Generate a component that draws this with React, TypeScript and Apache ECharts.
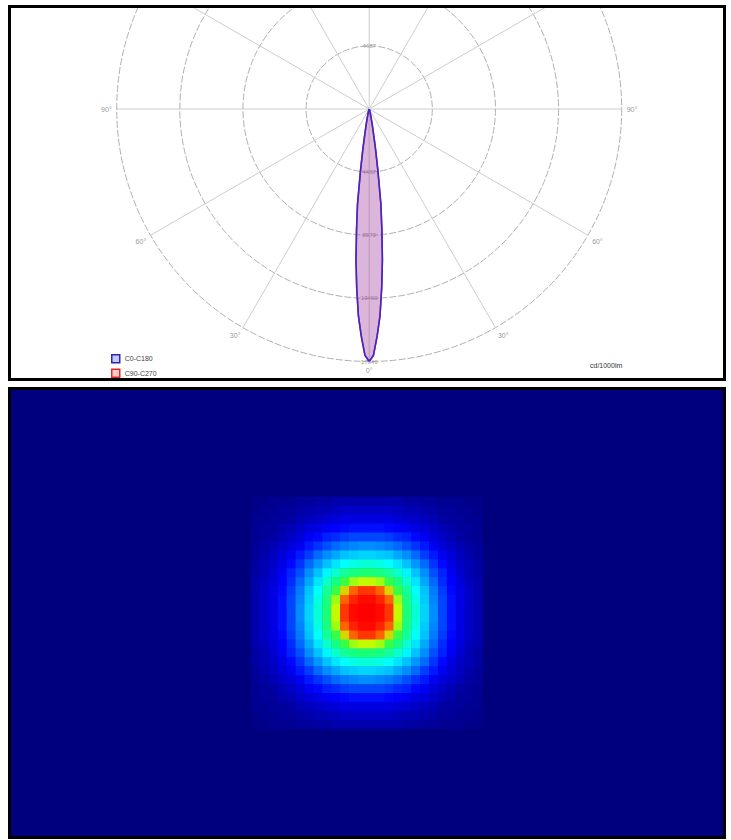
import React, { useEffect, useRef } from "react";
import * as echarts from "echarts";

// ---- Polar (photometric) data ----
const ANGLES = [0, 1, 2, 3, 4, 5, 6, 7, 8, 9, 10, 11, 12, 14, 16, 20, 25, 30, 40, 50, 60, 70, 80, 90];
const C0 = [17946, 17500, 16150, 14700, 12740, 10770, 8610, 6820, 4490, 2870, 1700, 1080, 720, 360, 180, 90, 50, 36, 25, 18, 14, 11, 9, 8];
const C180 = [17946, 17500, 16150, 14700, 12740, 10770, 8610, 6820, 4490, 2870, 1700, 1080, 720, 360, 180, 90, 50, 36, 25, 18, 14, 11, 9, 8];
const C90 = [17946, 17500, 16150, 14700, 12740, 10770, 8610, 6820, 4490, 2870, 1700, 1080, 720, 360, 180, 90, 50, 36, 25, 18, 14, 11, 9, 8];
const C270 = [17946, 17500, 16150, 14700, 12740, 10770, 8610, 6820, 4490, 2870, 1700, 1080, 720, 360, 180, 90, 50, 36, 25, 18, 14, 11, 9, 8];
const RADIUS_MAX = 17946;
const RADIUS_STEP = 4486.5;
const SERIES_NAMES = ["C0-C180", "C90-C270"];
const UNIT_LABEL = "cd/1000lm";

// ---- Heatmap data ----
const HEAT_COLS = 80;
const HEAT_ROWS = 50;
const SPOT_COL0 = 27;
const SPOT_ROW0 = 12;
const SPOT = [
  [1, 1, 2, 2, 2, 3, 3, 4, 4, 5, 5, 5, 5, 5, 5, 5, 5, 4, 4, 3, 3, 2, 2, 2, 1, 1],
  [1, 2, 2, 3, 3, 4, 5, 6, 6, 7, 8, 8, 8, 8, 8, 8, 7, 6, 6, 5, 4, 3, 3, 2, 2, 1],
  [2, 2, 3, 3, 4, 6, 7, 8, 9, 10, 11, 11, 11, 11, 11, 11, 10, 9, 8, 7, 6, 4, 3, 3, 2, 2],
  [2, 3, 3, 5, 6, 8, 10, 11, 13, 14, 15, 16, 16, 16, 16, 15, 14, 13, 11, 10, 8, 6, 5, 3, 3, 2],
  [2, 3, 4, 6, 8, 10, 13, 15, 18, 19, 21, 22, 22, 22, 22, 21, 19, 18, 15, 13, 10, 8, 6, 4, 3, 2],
  [3, 4, 6, 8, 10, 13, 17, 20, 23, 26, 28, 29, 30, 30, 29, 28, 26, 23, 20, 17, 13, 10, 8, 6, 4, 3],
  [3, 5, 7, 10, 13, 17, 21, 26, 30, 33, 36, 37, 38, 38, 37, 36, 33, 30, 26, 21, 17, 13, 10, 7, 5, 3],
  [4, 6, 8, 11, 15, 20, 26, 31, 36, 40, 43, 45, 46, 46, 45, 43, 40, 36, 31, 26, 20, 15, 11, 8, 6, 4],
  [4, 6, 9, 13, 18, 23, 30, 36, 42, 47, 51, 53, 54, 54, 53, 51, 47, 42, 36, 30, 23, 18, 13, 9, 6, 4],
  [5, 7, 10, 14, 19, 26, 33, 40, 47, 53, 59, 68, 72, 72, 68, 59, 53, 47, 40, 33, 26, 19, 14, 10, 7, 5],
  [5, 8, 11, 15, 21, 28, 36, 43, 51, 59, 76, 89, 94, 94, 89, 76, 59, 51, 43, 36, 28, 21, 15, 11, 8, 5],
  [5, 8, 11, 16, 22, 29, 37, 45, 53, 68, 89, 96, 99, 99, 96, 89, 68, 53, 45, 37, 29, 22, 16, 11, 8, 5],
  [5, 8, 11, 16, 22, 30, 38, 46, 54, 72, 94, 99, 100, 100, 99, 94, 72, 54, 46, 38, 30, 22, 16, 11, 8, 5],
  [5, 8, 11, 16, 22, 30, 38, 46, 54, 72, 94, 99, 100, 100, 99, 94, 72, 54, 46, 38, 30, 22, 16, 11, 8, 5],
  [5, 8, 11, 16, 22, 29, 37, 45, 53, 68, 89, 96, 99, 99, 96, 89, 68, 53, 45, 37, 29, 22, 16, 11, 8, 5],
  [5, 8, 11, 15, 21, 28, 36, 43, 51, 59, 76, 89, 94, 94, 89, 76, 59, 51, 43, 36, 28, 21, 15, 11, 8, 5],
  [5, 7, 10, 14, 19, 26, 33, 40, 47, 53, 59, 68, 72, 72, 68, 59, 53, 47, 40, 33, 26, 19, 14, 10, 7, 5],
  [4, 6, 9, 13, 18, 23, 30, 36, 42, 47, 51, 53, 54, 54, 53, 51, 47, 42, 36, 30, 23, 18, 13, 9, 6, 4],
  [4, 6, 8, 11, 15, 20, 26, 31, 36, 40, 43, 45, 46, 46, 45, 43, 40, 36, 31, 26, 20, 15, 11, 8, 6, 4],
  [3, 5, 7, 10, 13, 17, 21, 26, 30, 33, 36, 37, 38, 38, 37, 36, 33, 30, 26, 21, 17, 13, 10, 7, 5, 3],
  [3, 4, 6, 8, 10, 13, 17, 20, 23, 26, 28, 29, 30, 30, 29, 28, 26, 23, 20, 17, 13, 10, 8, 6, 4, 3],
  [2, 3, 4, 6, 8, 10, 13, 15, 18, 19, 21, 22, 22, 22, 22, 21, 19, 18, 15, 13, 10, 8, 6, 4, 3, 2],
  [2, 3, 3, 5, 6, 8, 10, 11, 13, 14, 15, 16, 16, 16, 16, 15, 14, 13, 11, 10, 8, 6, 5, 3, 3, 2],
  [2, 2, 3, 3, 4, 6, 7, 8, 9, 10, 11, 11, 11, 11, 11, 11, 10, 9, 8, 7, 6, 4, 3, 3, 2, 2],
  [1, 2, 2, 3, 3, 4, 5, 6, 6, 7, 8, 8, 8, 8, 8, 8, 7, 6, 6, 5, 4, 3, 3, 2, 2, 1],
  [1, 1, 2, 2, 2, 3, 3, 4, 4, 5, 5, 5, 5, 5, 5, 5, 5, 4, 4, 3, 3, 2, 2, 2, 1, 1],
];
const JET = ["#00007f", "#0000ff", "#0080ff", "#00ffff", "#20ff50", "#c0ff00", "#ff8000", "#ff0000"];

const FONT = "'Liberation Sans', Arial, sans-serif";

function buildCurve(left: number[], right: number[]) {
  const pts: number[][] = [];
  for (let i = ANGLES.length - 1; i >= 0; i--) pts.push([left[i], ANGLES[i]]);
  for (let i = 1; i < ANGLES.length; i++) pts.push([right[i], -ANGLES[i]]);
  return pts;
}

export default function App() {
  const ref = useRef<HTMLDivElement>(null);
  useEffect(() => {
    if (!ref.current) return;
    const chart = echarts.init(ref.current, null, { renderer: "svg" });
    const cols = Array.from({ length: HEAT_COLS }, (_, i) => String(i));
    const rows = Array.from({ length: HEAT_ROWS }, (_, i) => String(i));
    const heat: number[][] = [];
    SPOT.forEach((row, r) => row.forEach((v, c) => heat.push([SPOT_COL0 + c, SPOT_ROW0 + r, v])));

    const center = [369.2, 109];
    const radius = 252.5;
    const radiusLabelBase = {
      show: true,
      fontSize: 6,
      color: "#9a9a9a",
      margin: 0,
      align: "center",
      verticalAlign: "middle",
      showMinLabel: false,
    };

    chart.setOption({
      animation: false,
      textStyle: { fontFamily: FONT },
      polar: [
        { center, radius },
        { center, radius },
      ],
      angleAxis: [
        {
          polarIndex: 0,
          type: "value",
          min: -180,
          max: 180,
          interval: 30,
          startAngle: 90,
          clockwise: true,
          axisLine: { show: false },
          axisTick: { show: false },
          axisLabel: {
            fontSize: 7,
            color: "#9a9a9a",
            margin: 5,
            formatter: (v: number) => (Math.abs(v) > 90 ? "" : Math.abs(v) + "°"),
          },
          splitLine: { show: true, lineStyle: { color: "#cdcdcd", width: 1 } },
        },
        {
          polarIndex: 1,
          type: "value",
          min: 0,
          max: 360,
          startAngle: 270,
          show: false,
        },
      ],
      radiusAxis: [
        {
          polarIndex: 0,
          type: "value",
          min: 0,
          max: RADIUS_MAX,
          interval: RADIUS_STEP,
          axisLine: { show: false },
          axisTick: { show: false },
          axisLabel: {
            ...radiusLabelBase,
            formatter: (v: number) => (v > RADIUS_STEP + 1 ? "" : String(Math.round(v))),
          },
          splitLine: { show: true, lineStyle: { color: "#b0b0b0", width: 1, type: [7, 2] } },
        },
        {
          polarIndex: 1,
          type: "value",
          min: 0,
          max: RADIUS_MAX,
          interval: RADIUS_STEP,
          axisLine: { show: false },
          axisTick: { show: false },
          splitLine: { show: false },
          axisLabel: { ...radiusLabelBase, formatter: (v: number) => String(Math.round(v)) },
        },
      ],
      legend: {
        left: 106,
        top: 349,
        orient: "vertical",
        icon: "rect",
        itemWidth: 8,
        itemHeight: 8,
        itemGap: 5,
        textStyle: { fontSize: 7, color: "#444", fontFamily: FONT },
        data: [
          { name: SERIES_NAMES[0], itemStyle: { color: "rgba(140,140,255,0.5)", borderColor: "#2a2aa8", borderWidth: 1.5 } },
          { name: SERIES_NAMES[1], itemStyle: { color: "rgba(255,150,150,0.5)", borderColor: "#e02a2a", borderWidth: 1.5 } },
        ],
      },
      grid: {
        left: 11,
        top: 390,
        width: 712,
        height: 446,
        show: true,
        backgroundColor: "#00007f",
        borderWidth: 0,
      },
      xAxis: { type: "category", data: cols, show: false },
      yAxis: { type: "category", data: rows, show: false, inverse: true },
      visualMap: {
        type: "continuous",
        show: false,
        min: 0,
        max: 100,
        seriesIndex: 2,
        inRange: { color: JET },
      },
      series: [
        {
          type: "line",
          name: SERIES_NAMES[1],
          coordinateSystem: "polar",
          polarIndex: 0,
          data: buildCurve(C90, C270),
          symbol: "none",
          lineStyle: { color: "#e03030", width: 1.5 },
          itemStyle: { color: "#e03030" },
          areaStyle: { color: "rgba(220,60,60,0.35)" },
        },
        {
          type: "line",
          name: SERIES_NAMES[0],
          coordinateSystem: "polar",
          polarIndex: 0,
          data: buildCurve(C0, C180),
          symbol: "none",
          lineStyle: { color: "#3a28d0", width: 1.6 },
          itemStyle: { color: "#3a28d0" },
          areaStyle: { color: "rgba(120,80,255,0.3)" },
        },
        {
          type: "heatmap",
          xAxisIndex: 0,
          yAxisIndex: 0,
          data: heat,
          emphasis: { disabled: true },
          progressive: 0,
        },
      ],
      graphic: [
        { type: "rect", z: 100, shape: { x: 0, y: 0, width: 731, height: 5 }, style: { fill: "#fff" } },
        {
          type: "rect",
          z: 101,
          shape: { x: 9.5, y: 6.5, width: 715, height: 373 },
          style: { fill: "none", stroke: "#000", lineWidth: 3 },
        },
        {
          type: "rect",
          z: 101,
          shape: { x: 9.5, y: 388.5, width: 715, height: 449 },
          style: { fill: "none", stroke: "#000", lineWidth: 3 },
        },
        {
          type: "text",
          z: 101,
          left: 590,
          top: 362,
          style: { text: UNIT_LABEL, fontSize: 7, fill: "#333", fontFamily: FONT },
        },
      ],
    });
    return () => chart.dispose();
  }, []);
  return <div ref={ref} style={{ position: "absolute", left: 0, top: 0, width: 731, height: 840 }} />;
}
